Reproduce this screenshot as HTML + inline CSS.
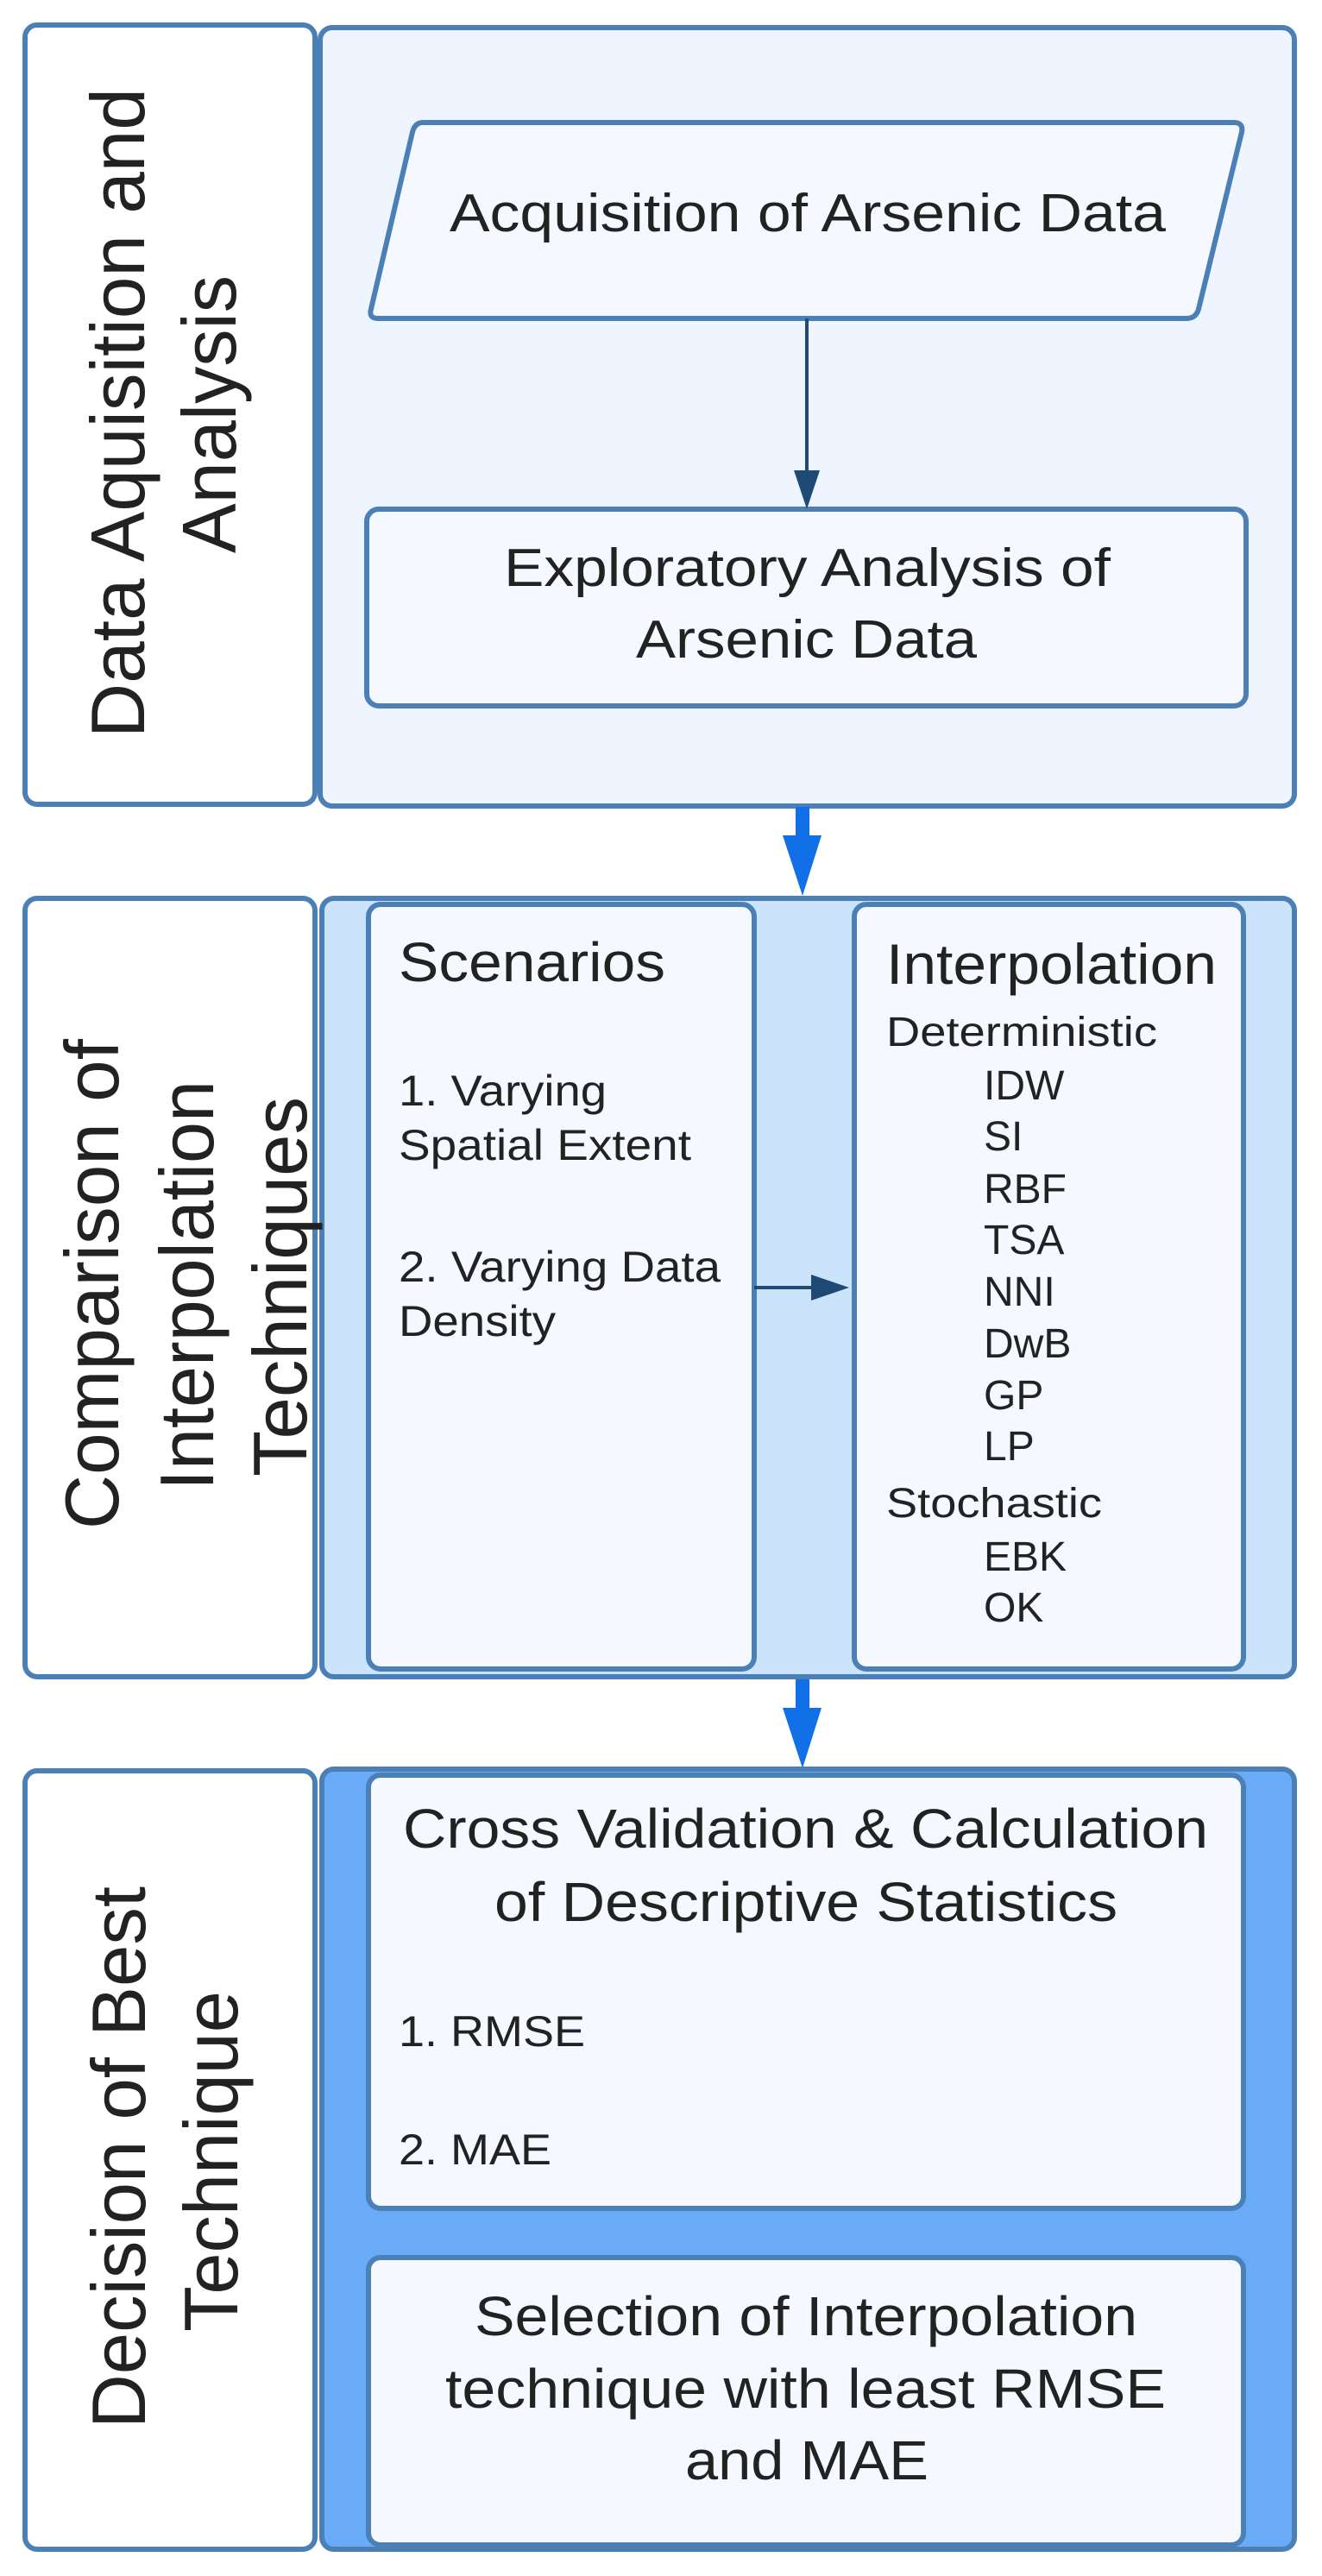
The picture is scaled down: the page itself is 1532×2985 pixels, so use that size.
<!DOCTYPE html>
<html><head><meta charset="utf-8"><style>html,body{margin:0;padding:0;background:#fff}svg{display:block}</style></head>
<body>
<svg width="1532" height="2985" viewBox="0 0 1532 2985" xmlns="http://www.w3.org/2000/svg" font-family="Liberation Sans, sans-serif" fill="#222">
<g stroke="#4a80b5" stroke-width="6">
<!-- section 1 -->
<rect x="29" y="29" width="336" height="903" rx="14" fill="#fff"/>
<rect x="371" y="32" width="1129" height="902" rx="14" fill="#eef5fe"/>
<path d="M490 142 L1430 142 Q1441 142 1439 153 L1389 358 Q1386 369 1375 369 L438 369 Q427 369 430 358 L478 153 Q481 142 490 142 Z" fill="#f5f9ff"/>
<rect x="425" y="590" width="1019" height="228" rx="14" fill="#f5f9ff"/>
<!-- section 2 -->
<rect x="29" y="1041" width="336" height="902" rx="14" fill="#fff"/>
<rect x="373" y="1041" width="1127" height="902" rx="14" fill="#cce3fc"/>
<rect x="427" y="1048" width="447" height="886" rx="14" fill="#f5f9ff"/>
<rect x="990" y="1048" width="451" height="886" rx="14" fill="#f5f9ff"/>
<!-- section 3 -->
<rect x="29" y="2052" width="336" height="902" rx="14" fill="#fff"/>
<rect x="373" y="2050" width="1127" height="904" rx="14" fill="#6aabf8"/>
<rect x="427" y="2057" width="1014" height="502" rx="14" fill="#f5f9ff"/>
<rect x="427" y="2616" width="1014" height="333" rx="14" fill="#f5f9ff"/>
</g>
<!-- dark arrows -->
<line x1="935" y1="369" x2="935" y2="550" stroke="#1e4a75" stroke-width="4"/>
<polygon points="920,545 950,545 935,590" fill="#1e4a75"/>
<line x1="874" y1="1492" x2="945" y2="1492" stroke="#1e4a75" stroke-width="4"/>
<polygon points="940,1477 940,1507 984,1492" fill="#1e4a75"/>
<!-- blue arrows -->
<rect x="922" y="935" width="16" height="36" fill="#1170e8"/>
<polygon points="907,968 952,968 930,1038" fill="#1170e8"/>
<rect x="922" y="1946" width="16" height="36" fill="#1170e8"/>
<polygon points="907,1979 952,1979 930,2049" fill="#1170e8"/>
<!-- vertical labels -->
<g font-size="88">
<text transform="translate(167,855) rotate(-90)" textLength="753" lengthAdjust="spacingAndGlyphs">Data Aquisition and</text>
<text transform="translate(273,641) rotate(-90)" textLength="322" lengthAdjust="spacingAndGlyphs">Analysis</text>
<text transform="translate(137,1772) rotate(-90)" textLength="568" lengthAdjust="spacingAndGlyphs">Comparison of</text>
<text transform="translate(247,1727) rotate(-90)" textLength="475" lengthAdjust="spacingAndGlyphs">Interpolation</text>
<text transform="translate(355,1711) rotate(-90)" textLength="440" lengthAdjust="spacingAndGlyphs">Techniques</text>
<text transform="translate(168,2814) rotate(-90)" textLength="628" lengthAdjust="spacingAndGlyphs">Decision of Best</text>
<text transform="translate(275,2702) rotate(-90)" textLength="395" lengthAdjust="spacingAndGlyphs">Technique</text>
</g>
<!-- section 1 texts -->
<g font-size="62" lengthAdjust="spacingAndGlyphs">
<text x="521" y="268" textLength="830" lengthAdjust="spacingAndGlyphs">Acquisition of Arsenic Data</text>
<text x="584" y="679" textLength="703" lengthAdjust="spacingAndGlyphs">Exploratory Analysis of</text>
<text x="737" y="762" textLength="395" lengthAdjust="spacingAndGlyphs">Arsenic Data</text>
</g>
<!-- section 2 texts -->
<text x="462" y="1137" font-size="64" textLength="309" lengthAdjust="spacingAndGlyphs">Scenarios</text>
<g font-size="50">
<text x="462" y="1281" textLength="241" lengthAdjust="spacingAndGlyphs">1. Varying</text>
<text x="462" y="1344" textLength="339" lengthAdjust="spacingAndGlyphs">Spatial Extent</text>
<text x="462" y="1485" textLength="373" lengthAdjust="spacingAndGlyphs">2. Varying Data</text>
<text x="462" y="1548" textLength="182" lengthAdjust="spacingAndGlyphs">Density</text>
</g>
<text x="1027" y="1140" font-size="66" textLength="383" lengthAdjust="spacingAndGlyphs">Interpolation</text>
<g font-size="48">
<text x="1027" y="1212" textLength="314" lengthAdjust="spacingAndGlyphs">Deterministic</text>
<text x="1140" y="1274">IDW</text>
<text x="1140" y="1333">SI</text>
<text x="1140" y="1394">RBF</text>
<text x="1140" y="1453">TSA</text>
<text x="1140" y="1513">NNI</text>
<text x="1140" y="1573">DwB</text>
<text x="1140" y="1633">GP</text>
<text x="1140" y="1692">LP</text>
<text x="1027" y="1758" textLength="250" lengthAdjust="spacingAndGlyphs">Stochastic</text>
<text x="1140" y="1820">EBK</text>
<text x="1140" y="1879">OK</text>
</g>
<!-- section 3 texts -->
<g font-size="64">
<text x="467" y="2141" textLength="933" lengthAdjust="spacingAndGlyphs">Cross Validation &amp; Calculation</text>
<text x="573" y="2226" textLength="722" lengthAdjust="spacingAndGlyphs">of Descriptive Statistics</text>
<text x="550" y="2706" textLength="768" lengthAdjust="spacingAndGlyphs">Selection of Interpolation</text>
<text x="516" y="2790" textLength="835" lengthAdjust="spacingAndGlyphs">technique with least RMSE</text>
<text x="794" y="2873" textLength="282" lengthAdjust="spacingAndGlyphs">and MAE</text>
</g>
<g font-size="50">
<text x="462" y="2371" textLength="216" lengthAdjust="spacingAndGlyphs">1. RMSE</text>
<text x="462" y="2508" textLength="177" lengthAdjust="spacingAndGlyphs">2. MAE</text>
</g>
</svg>
</body></html>
